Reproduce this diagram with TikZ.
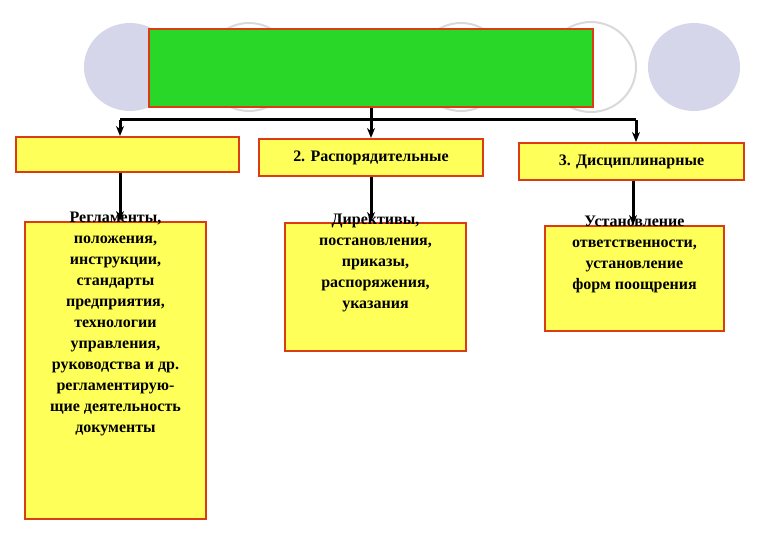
\documentclass[tikz,border=0pt]{standalone}
\usepackage{fontspec}
\setmainfont{Liberation Serif}
\usetikzlibrary{arrows.meta}
\definecolor{lav}{RGB}{214,214,234}
\definecolor{ylw}{RGB}{255,255,90}
\definecolor{grn}{RGB}{40,215,40}
\definecolor{rd}{RGB}{220,60,20}
\begin{document}
\begin{tikzpicture}[x=1pt,y=-1pt,
 bx/.style={draw=rd,line width=2pt,fill=ylw,inner sep=0pt},
 tx/.style={font=\bfseries\fontsize{16}{21}\selectfont,align=center,inner sep=0pt},
 arr/.style={-{Stealth[length=10pt,width=8pt]},line width=3pt},
 ring/.style={draw=black!15,line width=2pt}]
\useasboundingbox (0,0) rectangle (780,540);
\fill[lav] (130,67) ellipse (46 and 44);
\fill[lav] (694,67) ellipse (46 and 44);
\draw[ring] (249,67) circle (44);
\draw[ring] (461,67) circle (44);
\draw[ring] (591,67) circle (45);
\node[draw=rd,line width=2pt,fill=grn,minimum width=444pt,minimum height=78pt,anchor=north west] (top) at (148,28) {};
\node[bx,minimum width=223pt,minimum height=35pt,anchor=north west] (b1) at (15,136) {};
\node[bx,tx,minimum width=224pt,minimum height=37pt,anchor=north west] (b2) at (258,138) {2. Распорядительные};
\node[bx,tx,minimum width=225pt,minimum height=37pt,anchor=north west] (b3) at (518,142) {3. Дисциплинарные};
\node[bx,minimum width=181pt,minimum height=297pt,anchor=north west] (c1) at (24,221) {};
\node[bx,minimum width=181pt,minimum height=128pt,anchor=north west] (c2) at (284,222) {};
\node[bx,minimum width=179pt,minimum height=105pt,anchor=north west] (c3) at (544,225) {};
\node[tx,anchor=north] (t1) at ([yshift=9pt]c1.north) {Регламенты,\\положения,\\инструкции,\\стандарты\\предприятия,\\технологии\\управления,\\руководства и др.\\регламентирую-\\щие деятельность\\документы};
\node[tx,anchor=north] (t2) at ([yshift=8pt]c2.north) {Директивы,\\постановления,\\приказы,\\распоряжения,\\указания};
\node[tx,anchor=north] (t3) at ([yshift=9pt]c3.north) {Установление\\ответственности,\\установление\\форм поощрения};
\coordinate (l) at (120,120);
\coordinate (r) at (636,120);
\draw[line width=3pt] (l) -- (r);
\draw[arr] (top.south) -- (b2.north);
\draw[arr] (l) -- (b1.north -| l);
\draw[arr] (r) -- (b3.north -| r);
\draw[arr] (b1.south -| l) -- (c1.north -| l);
\draw[arr] (b2.south -| top.south) -- (c2.north -| top.south);
\draw[arr] ([xshift=-3pt]b3.south -| r) -- ([xshift=-3pt]c3.north -| r);
\end{tikzpicture}
\end{document}
